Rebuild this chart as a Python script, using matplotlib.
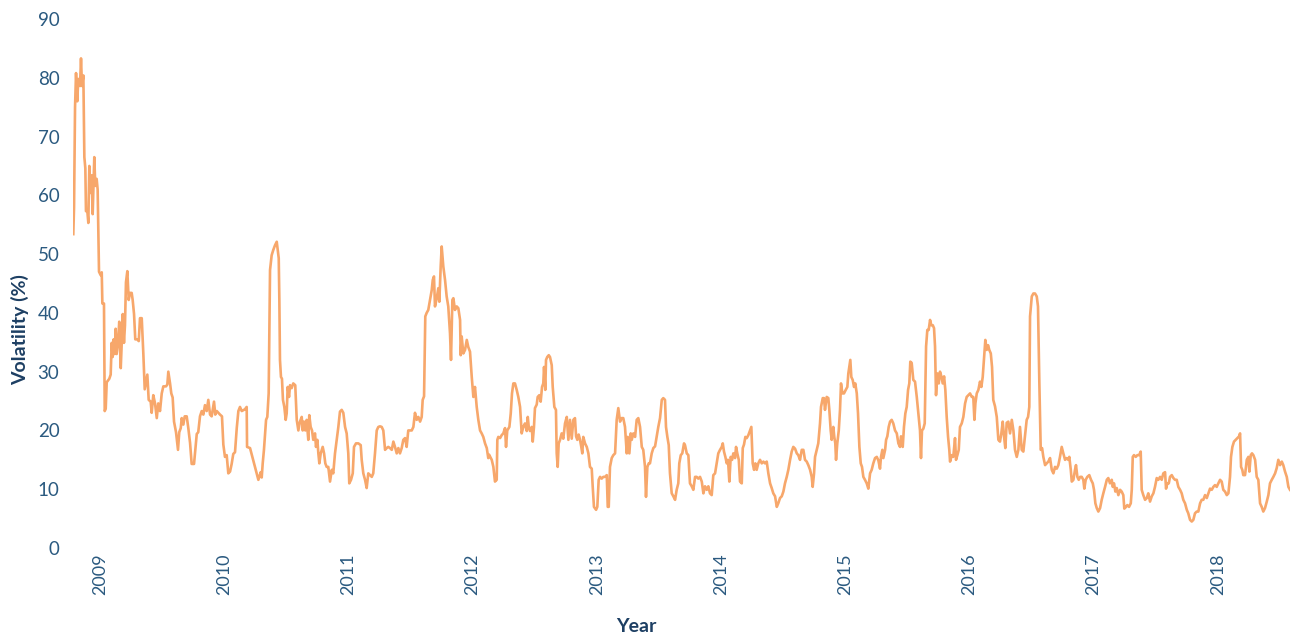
import matplotlib
matplotlib.use("Agg")
import matplotlib.pyplot as plt

# ---- data (decimal year, annualised volatility %) ----
dates = [
    2008.785, 2008.791, 2008.799, 2008.807, 2008.817, 2008.825, 2008.839, 2008.847, 2008.855, 2008.866,
    2008.874, 2008.882, 2008.887, 2008.898, 2008.906, 2008.914, 2008.925, 2008.933, 2008.941, 2008.954,
    2008.962, 2008.973, 2008.981, 2008.992,
    2009.006, 2009.014, 2009.019, 2009.032, 2009.038, 2009.046, 2009.054, 2009.075, 2009.086, 2009.094,
    2009.102, 2009.110, 2009.118, 2009.126, 2009.134, 2009.145, 2009.155, 2009.167, 2009.175, 2009.183,
    2009.193, 2009.201, 2009.209, 2009.220, 2009.231, 2009.242, 2009.255, 2009.263, 2009.274, 2009.284,
    2009.300, 2009.312, 2009.322, 2009.336, 2009.349, 2009.360, 2009.370, 2009.381, 2009.392, 2009.408,
    2009.416, 2009.429, 2009.443, 2009.457, 2009.469, 2009.483, 2009.497, 2009.510, 2009.531, 2009.542,
    2009.550, 2009.564, 2009.574, 2009.585, 2009.596, 2009.612, 2009.628, 2009.638, 2009.650, 2009.658,
    2009.671, 2009.682, 2009.698, 2009.711, 2009.725, 2009.738, 2009.757, 2009.767, 2009.779, 2009.791,
    2009.805, 2009.819, 2009.832, 2009.845, 2009.859, 2009.872, 2009.886, 2009.899, 2009.918, 2009.928,
    2009.940, 2009.966, 2009.982, 2009.993,
    2010.006, 2010.020, 2010.033, 2010.047, 2010.060, 2010.073, 2010.087, 2010.101, 2010.114, 2010.127,
    2010.141, 2010.167, 2010.181, 2010.184, 2010.208, 2010.248, 2010.275, 2010.294, 2010.302, 2010.310,
    2010.320, 2010.337, 2010.347, 2010.358, 2010.369, 2010.382, 2010.395, 2010.409, 2010.423, 2010.431,
    2010.439, 2010.444, 2010.449, 2010.457, 2010.465, 2010.473, 2010.484, 2010.495, 2010.503, 2010.511,
    2010.522, 2010.530, 2010.543, 2010.556, 2010.572, 2010.584, 2010.597, 2010.610, 2010.624, 2010.632,
    2010.642, 2010.653, 2010.664, 2010.677, 2010.685, 2010.696, 2010.707, 2010.717, 2010.731, 2010.739,
    2010.750, 2010.758, 2010.766, 2010.777, 2010.793, 2010.804, 2010.814, 2010.825, 2010.838, 2010.852,
    2010.866, 2010.878, 2010.892, 2010.906, 2010.919, 2010.932, 2010.946, 2010.959, 2010.973, 2010.986,
    2010.999,
    2011.007, 2011.021, 2011.035, 2011.045, 2011.061, 2011.080, 2011.099, 2011.107, 2011.120, 2011.134,
    2011.147, 2011.160, 2011.174, 2011.188, 2011.200, 2011.214, 2011.228, 2011.241, 2011.254, 2011.268,
    2011.281, 2011.295, 2011.308, 2011.321, 2011.335, 2011.349, 2011.362, 2011.375, 2011.389, 2011.402,
    2011.415, 2011.429, 2011.442, 2011.456, 2011.469, 2011.482, 2011.496, 2011.510, 2011.523, 2011.536,
    2011.550, 2011.563, 2011.577, 2011.590, 2011.598, 2011.609, 2011.619, 2011.630, 2011.643, 2011.657,
    2011.671, 2011.679, 2011.689, 2011.697, 2011.711, 2011.724, 2011.732, 2011.743, 2011.751, 2011.764,
    2011.778, 2011.791, 2011.804, 2011.818, 2011.826, 2011.837, 2011.845, 2011.858, 2011.872, 2011.885,
    2011.899, 2011.904, 2011.912, 2011.925, 2011.939, 2011.953, 2011.965, 2011.979, 2011.993,
    2012.006, 2012.019, 2012.033, 2012.046, 2012.060, 2012.073, 2012.086, 2012.100, 2012.114, 2012.126,
    2012.132, 2012.154, 2012.167, 2012.180, 2012.194, 2012.199, 2012.207, 2012.221, 2012.234, 2012.247,
    2012.261, 2012.269, 2012.279, 2012.296, 2012.307, 2012.317, 2012.328, 2012.341, 2012.355, 2012.368,
    2012.382, 2012.395, 2012.408, 2012.422, 2012.436, 2012.444, 2012.452, 2012.462, 2012.476, 2012.484,
    2012.494, 2012.502, 2012.516, 2012.524, 2012.537, 2012.548, 2012.559, 2012.569, 2012.575, 2012.585,
    2012.591, 2012.601, 2012.613, 2012.623, 2012.637, 2012.645, 2012.658, 2012.671, 2012.677, 2012.685,
    2012.693, 2012.704, 2012.717, 2012.730, 2012.744, 2012.758, 2012.771, 2012.784, 2012.798, 2012.811,
    2012.824, 2012.833, 2012.843, 2012.854, 2012.865, 2012.875, 2012.883, 2012.891, 2012.905, 2012.919,
    2012.932, 2012.945, 2012.959, 2012.967, 2012.977, 2012.994,
    2013.004, 2013.015, 2013.026, 2013.039, 2013.052, 2013.066, 2013.080, 2013.088, 2013.096, 2013.106,
    2013.120, 2013.133, 2013.147, 2013.160, 2013.173, 2013.187, 2013.200, 2013.213, 2013.227, 2013.241,
    2013.249, 2013.262, 2013.273, 2013.281, 2013.294, 2013.308, 2013.321, 2013.334, 2013.348, 2013.362,
    2013.374, 2013.388, 2013.396, 2013.407, 2013.418, 2013.428, 2013.442, 2013.455, 2013.469, 2013.482,
    2013.495, 2013.509, 2013.523, 2013.535, 2013.549, 2013.557, 2013.568, 2013.579, 2013.589, 2013.603,
    2013.616, 2013.630, 2013.643, 2013.656, 2013.664, 2013.676, 2013.688, 2013.702, 2013.710, 2013.724,
    2013.737, 2013.750, 2013.764, 2013.777, 2013.791, 2013.804, 2013.817, 2013.831, 2013.845, 2013.858,
    2013.871, 2013.885, 2013.898, 2013.911, 2013.925, 2013.938, 2013.952, 2013.965, 2013.978, 2013.992,
    2014.006, 2014.014, 2014.024, 2014.035, 2014.046, 2014.056, 2014.067, 2014.078, 2014.089, 2014.099,
    2014.113, 2014.121, 2014.131, 2014.143, 2014.153, 2014.167, 2014.175, 2014.185, 2014.196, 2014.207,
    2014.220, 2014.234, 2014.244, 2014.255, 2014.266, 2014.276, 2014.287, 2014.300, 2014.314, 2014.328,
    2014.341, 2014.354, 2014.368, 2014.381, 2014.395, 2014.408, 2014.421, 2014.435, 2014.449, 2014.461,
    2014.475, 2014.489, 2014.502, 2014.515, 2014.529, 2014.542, 2014.556, 2014.569, 2014.582, 2014.596,
    2014.610, 2014.622, 2014.636, 2014.650, 2014.663, 2014.676, 2014.690, 2014.703, 2014.717, 2014.730,
    2014.738, 2014.749, 2014.757, 2014.771, 2014.783, 2014.797, 2014.805, 2014.819, 2014.829, 2014.837,
    2014.851, 2014.864, 2014.872, 2014.883, 2014.891, 2014.904, 2014.912, 2014.920, 2014.926, 2014.936,
    2014.948, 2014.958, 2014.966, 2014.977, 2014.990,
    2015.004, 2015.017, 2015.025, 2015.033, 2015.041, 2015.049, 2015.060, 2015.071, 2015.081, 2015.093,
    2015.103, 2015.114, 2015.125, 2015.135, 2015.146, 2015.159, 2015.173, 2015.186, 2015.200, 2015.213,
    2015.226, 2015.240, 2015.254, 2015.267, 2015.280, 2015.288, 2015.299, 2015.307, 2015.321, 2015.329,
    2015.339, 2015.350, 2015.361, 2015.374, 2015.387, 2015.401, 2015.415, 2015.428, 2015.441, 2015.449,
    2015.463, 2015.473, 2015.484, 2015.495, 2015.506, 2015.516, 2015.524, 2015.535, 2015.548, 2015.562,
    2015.576, 2015.589, 2015.602, 2015.610, 2015.618, 2015.629, 2015.640, 2015.651, 2015.661, 2015.672,
    2015.683, 2015.693, 2015.705, 2015.715, 2015.723, 2015.731, 2015.742, 2015.753, 2015.763, 2015.774,
    2015.785, 2015.796, 2015.806, 2015.817, 2015.828, 2015.838, 2015.844, 2015.858, 2015.870, 2015.884,
    2015.892, 2015.903, 2015.914, 2015.924, 2015.938, 2015.951, 2015.965, 2015.978, 2015.991,
    2016.005, 2016.019, 2016.031, 2016.040, 2016.048, 2016.059, 2016.072, 2016.085, 2016.096, 2016.107,
    2016.118, 2016.128, 2016.139, 2016.150, 2016.160, 2016.172, 2016.182, 2016.192, 2016.206, 2016.220,
    2016.233, 2016.246, 2016.257, 2016.268, 2016.279, 2016.289, 2016.300, 2016.313, 2016.327, 2016.341,
    2016.354, 2016.367, 2016.381, 2016.394, 2016.407, 2016.421, 2016.434, 2016.448, 2016.461, 2016.472,
    2016.482, 2016.488, 2016.502, 2016.515, 2016.528, 2016.542, 2016.552, 2016.563, 2016.574, 2016.585,
    2016.595, 2016.609, 2016.622, 2016.635, 2016.649, 2016.663, 2016.676, 2016.689, 2016.703, 2016.716,
    2016.729, 2016.743, 2016.756, 2016.770, 2016.783, 2016.796, 2016.804, 2016.816, 2016.824, 2016.837,
    2016.850, 2016.858, 2016.869, 2016.880, 2016.891, 2016.904, 2016.917, 2016.925, 2016.936, 2016.949,
    2016.965, 2016.979, 2016.993,
    2017.003, 2017.014, 2017.025, 2017.038, 2017.052, 2017.065, 2017.078, 2017.092, 2017.106, 2017.118,
    2017.132, 2017.146, 2017.154, 2017.164, 2017.175, 2017.186, 2017.199, 2017.213, 2017.226, 2017.239,
    2017.247, 2017.261, 2017.271, 2017.285, 2017.299, 2017.307, 2017.315, 2017.325, 2017.339, 2017.352,
    2017.366, 2017.379, 2017.387, 2017.400, 2017.414, 2017.428, 2017.440, 2017.454, 2017.468, 2017.481,
    2017.494, 2017.508, 2017.521, 2017.535, 2017.548, 2017.561, 2017.575, 2017.583, 2017.593, 2017.605,
    2017.615, 2017.629, 2017.642, 2017.655, 2017.669, 2017.682, 2017.696, 2017.709, 2017.722, 2017.736,
    2017.750, 2017.762, 2017.776, 2017.790, 2017.803, 2017.816, 2017.830, 2017.843, 2017.857, 2017.870,
    2017.883, 2017.897, 2017.911, 2017.924, 2017.937, 2017.951, 2017.964, 2017.977, 2017.991,
    2018.004, 2018.018, 2018.031, 2018.044, 2018.058, 2018.072, 2018.085, 2018.098, 2018.106, 2018.117,
    2018.130, 2018.144, 2018.157, 2018.171, 2018.179, 2018.187, 2018.197, 2018.205, 2018.219, 2018.233,
    2018.246, 2018.254, 2018.265, 2018.275, 2018.286, 2018.300, 2018.313, 2018.326, 2018.340, 2018.353,
    2018.366, 2018.380, 2018.394, 2018.407, 2018.420, 2018.434, 2018.447, 2018.461, 2018.474, 2018.487,
    2018.501, 2018.515, 2018.527, 2018.541, 2018.555, 2018.568, 2018.581,
]

volatility = [
    53.4, 58.0, 75.0, 80.8, 76.0, 79.8, 78.6, 83.3, 78.6, 80.4,
    66.5, 64.6, 57.3, 57.3, 55.3, 65.0, 60.4, 63.4, 56.8, 66.5,
    61.6, 62.8, 61.0, 47.0,
    46.4, 46.9, 41.6, 41.6, 23.3, 23.7, 28.2, 28.8, 29.5, 34.9,
    32.5, 35.5, 33.0, 37.3, 33.0, 34.9, 38.5, 30.6, 34.9, 39.8,
    34.9, 37.9, 45.2, 47.1, 42.2, 43.4, 43.4, 42.2, 39.8, 35.5,
    35.5, 35.2, 39.1, 39.1, 33.0, 27.0, 28.2, 29.5, 25.2, 24.9,
    23.0, 26.0, 24.6, 22.1, 24.6, 23.3, 26.3, 27.5, 27.5, 27.8,
    30.0, 28.0, 26.3, 25.6, 21.5, 19.7, 16.7, 19.7, 20.4, 22.1,
    21.0, 22.4, 22.4, 20.4, 17.9, 14.3, 14.3, 16.7, 19.4, 19.7,
    22.4, 23.3, 22.7, 24.3, 23.3, 25.2, 22.7, 22.4, 24.9, 22.7,
    23.3, 22.7, 22.4, 17.6,
    15.5, 15.8, 12.7, 13.0, 14.3, 16.0, 16.3, 20.4, 23.3, 24.0,
    23.3, 23.6, 24.0, 17.2, 17.0, 13.8, 11.6, 12.9, 12.0, 14.4,
    16.7, 21.8, 22.3, 26.3, 47.3, 49.8, 50.7, 51.5, 52.1, 50.7,
    49.3, 42.2, 32.0, 29.1, 28.8, 25.2, 24.0, 21.8, 22.9, 27.4,
    25.7, 27.7, 27.2, 28.0, 27.7, 21.8, 20.0, 21.5, 22.3, 20.0,
    21.5, 20.0, 21.8, 18.4, 22.6, 20.6, 20.0, 18.4, 19.5, 17.2,
    18.4, 16.1, 14.4, 16.1, 17.2, 16.1, 14.4, 13.8, 13.8, 11.3,
    13.3, 12.7, 16.1, 18.4, 20.6, 23.2, 23.5, 23.0, 20.6, 19.5,
    16.1,
    11.0, 11.6, 12.7, 17.2, 17.8, 17.8, 17.5, 15.0, 12.7, 11.6,
    10.2, 12.7, 12.4, 12.1, 12.7, 16.1, 20.0, 20.6, 20.7, 20.6,
    20.0, 16.7, 17.0, 17.2, 17.0, 16.7, 18.1, 17.2, 16.1, 17.0,
    16.1, 17.0, 18.4, 18.7, 17.2, 20.0, 20.0, 20.0, 20.6, 23.0,
    21.8, 22.3, 21.5, 22.3, 25.2, 25.8, 39.4, 40.0, 40.5, 42.2,
    43.9, 45.6, 46.2, 41.1, 42.5, 44.2, 41.9, 47.9, 51.3, 47.9,
    45.6, 42.8, 41.1, 36.5, 32.0, 42.2, 42.5, 40.5, 41.1, 40.8,
    38.8, 32.8, 36.0, 33.1, 33.7, 35.4, 34.2, 33.4, 29.1,
    25.7, 27.4, 24.0, 21.8, 20.0, 19.5, 18.9, 17.8, 17.0, 15.3,
    15.9, 15.0, 13.8, 11.3, 11.6, 18.4, 18.9, 18.7, 19.2, 19.5,
    20.4, 17.2, 20.0, 20.6, 22.9, 26.3, 28.0, 28.0, 26.9, 25.7,
    24.0, 19.5, 20.6, 21.2, 19.9, 22.3, 20.6, 19.9, 20.6, 18.1,
    20.6, 23.8, 24.4, 25.7, 26.0, 24.9, 27.4, 28.0, 30.8, 26.9,
    32.0, 32.5, 32.8, 32.5, 31.1, 27.4, 24.0, 23.5, 16.1, 13.8,
    17.8, 18.4, 19.5, 18.6, 21.2, 22.3, 18.4, 21.8, 18.6, 21.8,
    22.1, 19.0, 18.4, 19.3, 18.4, 17.2, 16.1, 18.9, 17.8, 17.2,
    16.1, 13.8, 13.5, 10.4, 7.0, 6.5,
    7.0, 11.6, 12.1, 11.8, 12.1, 12.1, 12.4, 7.0, 7.0, 13.8,
    15.3, 15.8, 16.1, 21.8, 23.8, 21.5, 22.1, 22.1, 20.6, 16.1,
    18.9, 16.1, 19.5, 18.4, 19.5, 18.9, 21.8, 22.1, 20.6, 17.2,
    16.7, 13.8, 8.7, 13.8, 14.4, 14.4, 16.1, 17.0, 17.3, 18.9,
    20.6, 22.1, 25.2, 25.5, 25.2, 20.6, 18.9, 17.5, 12.7, 9.3,
    8.8, 8.2, 9.9, 11.0, 14.4, 15.8, 16.1, 17.8, 17.5, 16.1,
    15.8, 11.0, 10.5, 9.9, 12.1, 12.1, 11.8, 12.1, 11.3, 9.3,
    10.5, 9.9, 10.5, 9.3, 9.0, 12.4, 12.7, 14.4, 16.1, 16.7,
    17.2, 17.8, 16.4, 15.5, 14.4, 15.0, 11.3, 15.5, 15.0, 16.1,
    15.3, 17.2, 16.1, 15.0, 11.3, 11.0, 17.0, 17.6, 18.9, 18.7,
    19.2, 20.0, 20.6, 14.4, 13.3, 14.4, 13.3, 14.4, 15.0, 14.4,
    14.7, 14.4, 14.7, 12.7, 11.0, 10.2, 9.3, 8.8, 7.0, 7.6,
    8.5, 8.8, 9.6, 11.0, 12.1, 13.3, 15.0, 16.4, 17.2, 16.9,
    16.1, 15.8, 15.0, 16.7, 16.7, 15.0, 14.7, 14.1, 13.3, 12.1,
    10.4, 12.7, 15.5, 16.7, 17.8, 21.2, 24.0, 25.5, 25.5, 23.5,
    25.7, 25.5, 23.5, 20.0, 18.4, 20.6, 18.9, 17.8, 15.0, 17.8,
    20.0, 23.5, 28.0, 26.3, 26.3,
    26.9, 27.4, 29.7, 30.8, 32.0, 29.1, 28.6, 27.4, 28.0, 26.3,
    22.9, 17.2, 14.4, 13.8, 12.1, 11.6, 11.0, 10.1, 12.7, 13.3,
    14.4, 15.3, 15.5, 14.9, 13.5, 15.5, 16.7, 15.3, 16.7, 18.4,
    19.0, 20.6, 21.5, 21.8, 21.2, 20.0, 19.5, 17.8, 17.2, 19.0,
    17.2, 20.6, 22.9, 24.0, 26.9, 28.0, 31.7, 31.5, 28.6, 28.3,
    25.7, 22.9, 20.0, 15.3, 20.0, 20.3, 21.2, 34.3, 37.1, 37.1,
    38.8, 37.9, 37.9, 37.4, 34.3, 26.0, 29.7, 28.0, 30.0, 29.2,
    28.0, 29.2, 26.9, 22.3, 18.9, 16.7, 14.7, 15.8, 15.5, 18.7,
    15.0, 15.8, 16.7, 20.6, 21.2, 22.3, 24.6, 25.7, 26.0,
    26.3, 25.7, 25.7, 21.8, 24.6, 26.3, 26.9, 28.3, 27.4, 29.1,
    32.5, 35.4, 33.7, 34.5, 33.7, 33.1, 30.8, 25.2, 24.1, 22.3,
    18.4, 18.1, 19.5, 21.5, 18.9, 17.0, 21.3, 21.5, 19.5, 21.8,
    20.0, 16.7, 15.5, 16.7, 20.6, 16.7, 16.4, 19.2, 21.8, 22.3,
    24.0, 39.4, 42.8, 43.3, 43.3, 42.8, 41.1, 28.0, 16.7, 17.0,
    15.5, 14.1, 14.4, 14.7, 15.3, 13.3, 12.7, 13.8, 13.5, 14.1,
    15.5, 17.2, 16.1, 15.0, 15.3, 15.0, 15.5, 13.3, 11.3, 11.6,
    13.3, 14.1, 12.1, 11.6, 12.1, 12.1, 11.6, 10.1, 11.6, 12.1,
    12.4, 11.6, 11.0,
    9.9, 7.6, 6.8, 6.2, 6.8, 8.2, 9.3, 10.4, 11.6, 11.9,
    11.0, 11.6, 10.4, 11.0, 9.6, 10.2, 9.0, 9.9, 9.6, 9.0,
    6.7, 7.0, 7.3, 7.0, 7.6, 9.9, 15.5, 15.8, 15.5, 15.8,
    15.8, 16.4, 9.9, 9.0, 8.2, 8.5, 9.3, 7.9, 8.8, 9.3,
    10.4, 11.9, 11.6, 12.1, 11.6, 12.7, 12.9, 10.1, 11.0, 11.0,
    12.1, 12.4, 11.9, 11.6, 11.6, 10.4, 9.9, 9.3, 8.2, 7.6,
    6.5, 5.9, 4.8, 4.5, 4.8, 5.9, 6.2, 6.2, 7.6, 8.2,
    8.2, 9.0, 8.5, 9.3, 10.1, 9.9, 10.4, 10.7, 10.4,
    11.0, 11.6, 11.3, 9.9, 9.6, 9.0, 9.3, 12.1, 15.5, 17.2,
    18.1, 18.4, 18.7, 19.0, 19.5, 13.8, 13.3, 12.4, 12.4, 15.0,
    15.5, 13.0, 15.8, 16.1, 15.8, 15.0, 12.1, 11.6, 7.6, 7.0,
    6.2, 6.8, 7.9, 9.0, 11.0, 11.6, 12.1, 12.7, 13.6, 15.0,
    14.1, 14.7, 14.1, 13.0, 12.1, 10.4, 9.9,
]

year_ticks = [2009, 2010, 2011, 2012, 2013, 2014, 2015, 2016, 2017, 2018]
year_labels = [str(y) for y in year_ticks]
y_ticks = [0, 10, 20, 30, 40, 50, 60, 70, 80, 90]
x_title = "Year"
y_title = "Volatility (%)"

# ---- styling ----
line_color = "#F7A76B"
tick_color = "#2B5A80"
title_color = "#1D3F63"
plt.rcParams["font.family"] = ["Lato", "DejaVu Sans"]

fig = plt.figure(figsize=(12.92, 6.32), dpi=100)
ax = fig.add_axes([73.3 / 1292, 84 / 632, (1290 - 73.3) / 1292, 529 / 632])

ax.plot(dates, volatility, color=line_color, linewidth=1.9, solid_joinstyle="round")

ax.set_xlim(dates[0], dates[-1])
ax.set_ylim(0, 90)
ax.set_xticks(year_ticks)
ax.set_xticklabels(year_labels, rotation=90, fontsize=13, color=tick_color)
ax.set_yticks(y_ticks)
ax.set_yticklabels([str(v) for v in y_ticks], fontsize=13.5, color=tick_color)
ax.tick_params(axis="x", length=0, pad=4)
ax.tick_params(axis="y", length=0, pad=10)

for s in ax.spines.values():
    s.set_visible(False)
ax.grid(False)

ax.set_xlabel(x_title, fontsize=14, fontweight="bold", color=title_color,
              ha="center", va="center")
ax.xaxis.set_label_coords((636 - 73.3) / (1290 - 73.3), (548 - 626) / 529)
ax.set_ylabel(y_title, fontsize=14, fontweight="bold", color=title_color,
              ha="center", va="center", rotation=90)
ax.yaxis.set_label_coords((20 - 73.3) / (1290 - 73.3), (548 - 330) / 529)

fig.savefig("out.png", dpi=100, facecolor="white")
